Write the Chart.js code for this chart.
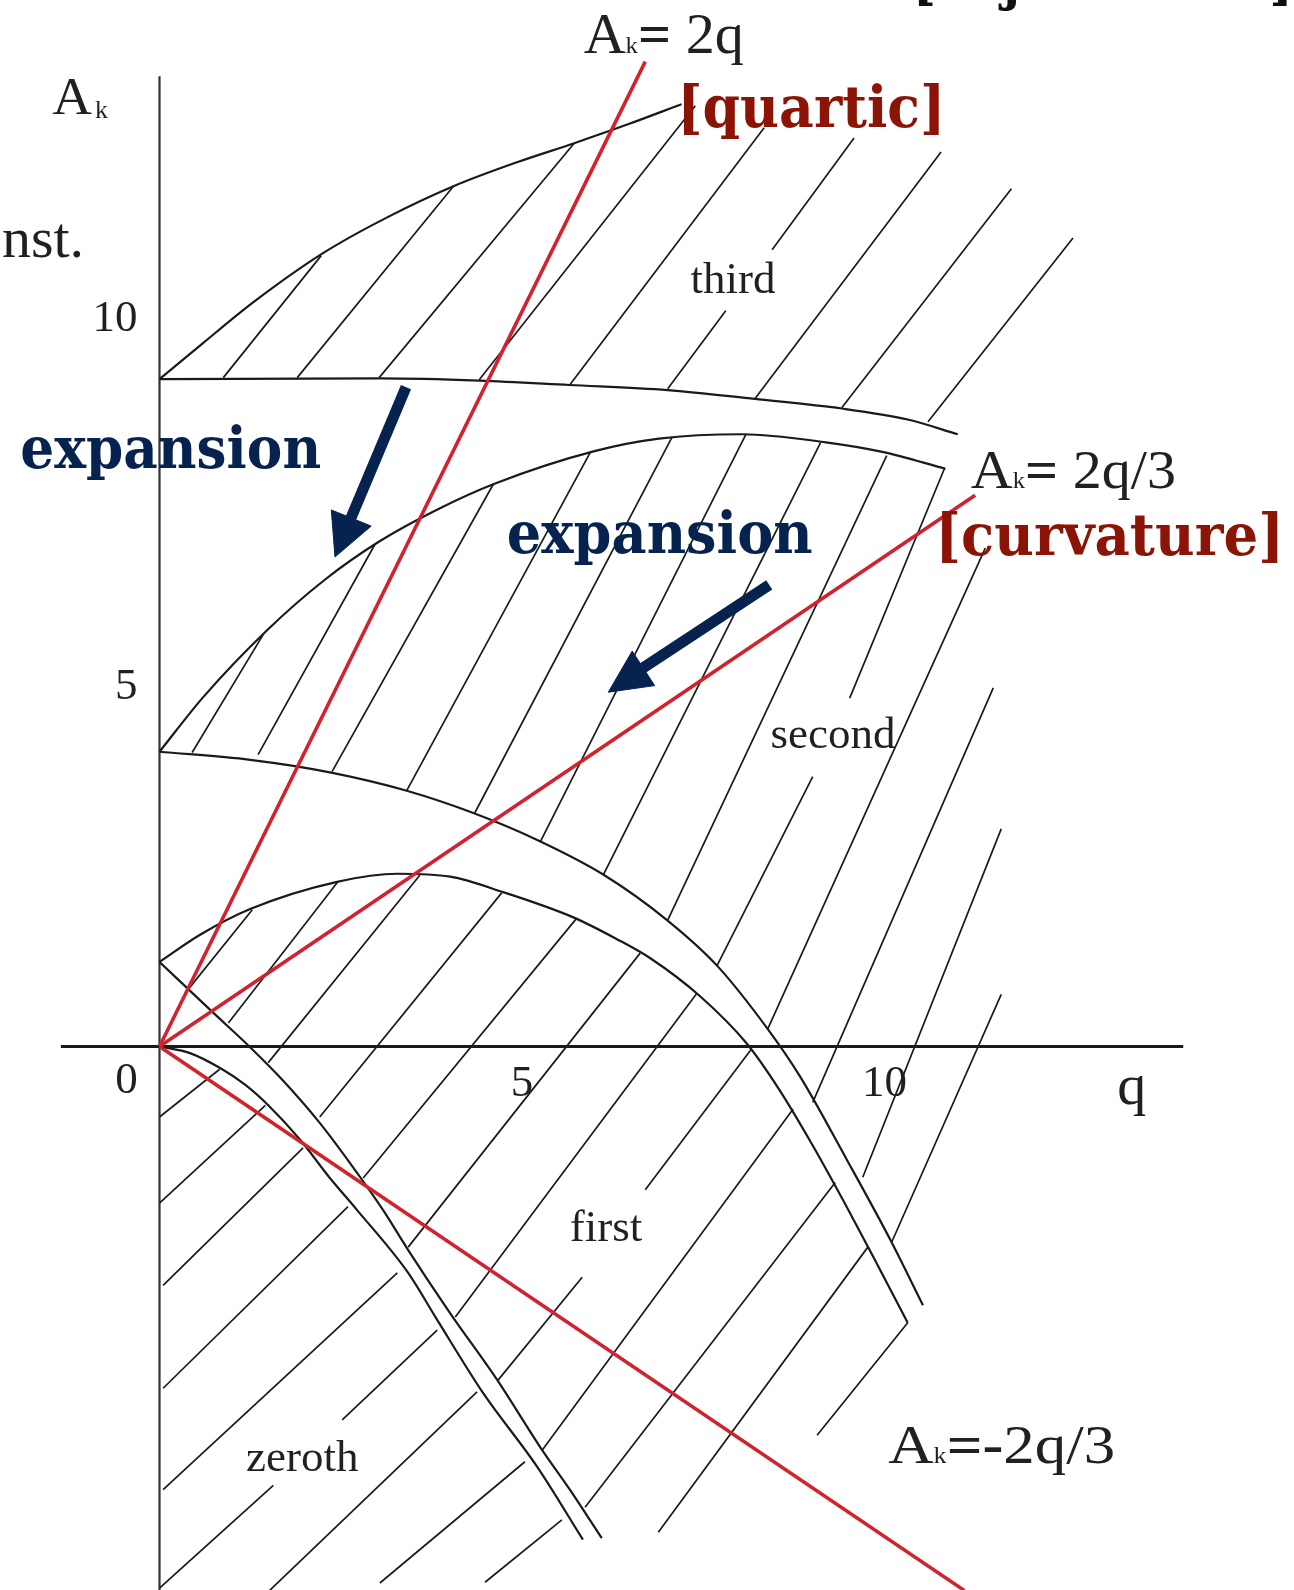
<!DOCTYPE html>
<html>
<head>
<meta charset="utf-8">
<title>Stability regions of A_k against q</title>
<script src="https://cdn.jsdelivr.net/npm/chart.js@4.4.1/dist/chart.umd.min.js"></script>
<style>
  html, body { margin: 0; padding: 0; background: #fff; }
  #wrap { width: 1294px; height: 1590px; position: relative; }
</style>
</head>
<body>
<div id="wrap"><canvas id="chart"></canvas></div>
<script>
// Axis tick labels
const qTicks = [5, 10];
const aTicks = [5, 10];

// Boundary curves, [q, A_k] pairs
const a3 = [[0, 9.08], [0.60, 9.57], [1.30, 10.13], [2.25, 10.79], [3.12, 11.27], [4.07, 11.71], [4.93, 12.03], [5.72, 12.29], [6.47, 12.55], [7.20, 12.82]];
const b3 = [[0, 9.08], [3.04, 9.09], [4.41, 9.06], [5.65, 9.0], [7.01, 8.93], [8.21, 8.81], [9.41, 8.68], [10.32, 8.53], [11.01, 8.33]];
const a2 = [[0, 4.01], [0.60, 4.75], [1.48, 5.66], [2.28, 6.35], [3.03, 6.87], [3.82, 7.30], [4.63, 7.66], [6.00, 8.10], [6.89, 8.27], [8.04, 8.33], [9.19, 8.22], [9.97, 8.09], [10.84, 7.86]];
const b2 = [[0, 4.01], [1.25, 3.9], [2.35, 3.73], [3.41, 3.48], [4.32, 3.18], [5.21, 2.81], [6.12, 2.34], [7.0, 1.72], [7.69, 1.10], [8.38, 0.25], [8.83, -0.4], [9.48, -1.54], [10.08, -2.63], [10.53, -3.52]];
const a1 = [[0, 1.15], [0.56, 1.52], [1.25, 1.87], [2.45, 2.24], [3.28, 2.35], [4.01, 2.31], [4.74, 2.10], [5.70, 1.76], [6.31, 1.46], [6.77, 1.20], [7.46, 0.68], [8.10, 0.04], [8.55, -0.59], [9.0, -1.33], [9.45, -2.13], [9.85, -2.87], [10.32, -3.76]];
const b1 = [[0, 1.15], [0.74, 0.46], [1.25, -0.01], [1.70, -0.46], [2.21, -1.04], [2.63, -1.59], [3.08, -2.22], [3.43, -2.77], [4.01, -3.63], [4.66, -4.54], [5.25, -5.45], [5.66, -6.03], [6.10, -6.69]];
const a0 = [[0, 0], [0.42, -0.09], [0.83, -0.29], [1.18, -0.52], [1.50, -0.80], [1.94, -1.27], [2.35, -1.79], [2.72, -2.22], [3.43, -3.08], [3.83, -3.72], [4.46, -4.71], [5.21, -5.72], [5.84, -6.71]];

// Straight reference lines through the origin
const quarticLine = [[0, 0], [6.7, 13.4]];
const curvatureLine = [[0, 0], [11.25, 7.5]];
const negCurvatureLine = [[0, 0], [11.1, -7.4]];

// Axes
const qAxis = [[-1.36, 0], [14.12, 0]];
const aAxis = [[0, 13.2], [0, -7.4]];

// Hatching strokes per stable region, each one a [start, end] pair
const thirdHatch = [
  [[0.88, 9.10], [2.23, 10.76]], [[1.90, 9.10], [4.06, 11.71]], [[3.03, 9.10], [5.72, 12.29]],
  [[4.41, 9.07], [7.39, 12.80]], [[5.65, 8.99], [8.34, 12.50]], [[7.01, 8.95], [7.81, 10.01]],
  [[8.45, 10.84], [9.58, 12.36]], [[8.21, 8.81], [10.78, 12.17]], [[9.41, 8.69], [11.75, 11.67]],
  [[10.60, 8.50], [12.60, 11.00]]
];
const secondHatch = [
  [[0.45, 4.0], [1.44, 5.62]], [[1.36, 3.97], [2.97, 6.83]], [[2.38, 3.74], [4.61, 7.66]],
  [[3.41, 3.48], [5.94, 8.08]], [[4.35, 3.18], [7.07, 8.29]], [[5.25, 2.78], [8.09, 8.33]],
  [[6.12, 2.33], [9.12, 8.22]], [[7.01, 1.72], [10.03, 8.04]], [[10.83, 7.87], [9.52, 4.74]],
  [[9.01, 3.67], [7.69, 1.10]], [[11.39, 6.78], [8.39, 0.24]], [[11.50, 4.88], [9.01, -0.76]],
  [[11.61, 2.96], [9.70, -1.78]], [[11.61, 0.71], [10.10, -2.66]]
];
const firstHatch = [
  [[0.39, 0.77], [1.28, 1.86]], [[0.95, 0.32], [2.46, 2.24]], [[1.50, -0.22], [3.59, 2.33]],
  [[2.21, -0.96], [4.72, 2.09]], [[2.81, -1.79], [5.75, 1.74]], [[3.43, -2.73], [6.63, 1.27]],
  [[4.08, -3.68], [7.41, 0.72]], [[4.67, -4.54], [5.83, -3.14]], [[6.70, -1.95], [8.16, -0.04]],
  [[5.28, -5.49], [8.74, -0.85]], [[5.87, -6.27], [9.32, -1.85]], [[6.88, -6.61], [9.77, -2.73]],
  [[9.07, -5.29], [10.32, -3.76]]
];
const zerothHatch = [
  [[0, -0.96], [0.83, -0.31]], [[0, -2.13], [1.46, -0.80]], [[0.05, -3.25], [1.98, -1.38]],
  [[0.05, -4.65], [2.60, -2.18]], [[0.05, -6.03], [3.28, -3.08]], [[0, -7.37], [1.57, -5.97]],
  [[2.52, -5.08], [3.83, -3.86]], [[1.52, -7.40], [4.38, -4.70]], [[3.04, -7.30], [5.04, -5.65]],
  [[4.49, -7.29], [5.55, -6.44]]
];

// "expansion" arrows: shaft and head outline
const arrow1Shaft = [[3.40, 8.97], [2.64, 7.19]];
const arrow1Head = [[2.37, 7.30], [2.92, 7.08], [2.42, 6.66], [2.37, 7.30]];
const arrow2Shaft = [[8.41, 6.28], [6.67, 5.15]];
const arrow2Head = [[6.52, 5.38], [6.83, 4.91], [6.19, 4.82], [6.52, 5.38]];

const INK = '#1a1a1a';
const TEXT = '#231f20';
const RED = '#d0232d';
const DARKRED = '#8b1406';
const NAVY = '#06234f';
const SERIF = '"Liberation Serif", "Times New Roman", serif';
const SLAB = '"DejaVu Serif", Georgia, serif';

const toPts = arr => arr.map(([q, a]) => ({ x: q, y: a }));
const toSegs = list => list.flatMap(s => [...toPts(s), { x: s[s.length - 1][0], y: null }]);

function line(data, color, width, extra) {
  return Object.assign({
    data, showLine: true, pointRadius: 0, pointHoverRadius: 0,
    borderColor: color, borderWidth: width, fill: false, tension: 0
  }, extra);
}

// A with a small k, then the rest of the expression, squeezed to a width
function drawAk(ctx, x, y, size, tail, width) {
  const parts = [
    { t: 'A', f: `${size}px ${SERIF}`, dy: 0 },
    { t: 'k', f: `${Math.round(size * 0.42)}px ${SERIF}`, dy: 0 }
  ];
  if (tail !== null) {
    parts.push({ t: '=', f: `bold ${size}px ${SERIF}`, dy: 0 });
    if (tail.startsWith('-')) {
      parts.push({ t: '-', f: `bold ${size}px ${SERIF}`, dy: 0 });
      tail = tail.slice(1);
    }
    parts.push({ t: tail, f: `${size}px ${SERIF}`, dy: 0 });
  } else {
    parts[1].f = `${Math.round(size * 0.48)}px ${SERIF}`;
    parts[1].dy = 4;
    parts[1].gap = 3;
  }
  let total = 0;
  parts.forEach(p => { ctx.font = p.f; p.w = ctx.measureText(p.t).width + (p.gap || 0); total += p.w; });
  ctx.save();
  ctx.translate(x, y);
  ctx.scale(width / total, 1);
  let cx = 0;
  parts.forEach(p => { ctx.font = p.f; ctx.fillText(p.t, cx + (p.gap || 0), p.dy); cx += p.w; });
  ctx.restore();
}

function drawFit(ctx, text, x, y, width, font) {
  ctx.font = font;
  const w = ctx.measureText(text).width;
  ctx.save();
  ctx.translate(x, y);
  ctx.scale(width / w, 1);
  ctx.fillText(text, 0, 0);
  ctx.restore();
}

// Text placed in chart units
const regionTags = [
  { t: 'third', q: 7.91, a: 10.25 },
  { t: 'second', q: 9.29, a: 4.06 },
  { t: 'first', q: 6.16, a: -2.65 },
  { t: 'zeroth', q: 1.97, a: -5.78 }
];

const notes = {
  id: 'notes',
  afterDatasetsDraw(chart) {
    const { ctx } = chart;
    const sx = chart.scales.x, sy = chart.scales.y;
    const X = v => sx.getPixelForValue(v);
    const Y = v => sy.getPixelForValue(v);
    const W = w => X(w) - X(0);
    ctx.save();
    ctx.textBaseline = 'alphabetic';
    ctx.fillStyle = TEXT;

    // tick labels
    ctx.font = `45px ${SERIF}`;
    ctx.textAlign = 'center';
    qTicks.forEach(v => ctx.fillText(String(v), X(v), Y(0) + 50));
    ctx.fillText('0', X(0) - 33, Y(0) + 47);
    ctx.textAlign = 'right';
    aTicks.forEach(v => ctx.fillText(String(v), X(0) - 22, Y(v) + 20));

    // axis titles
    ctx.textAlign = 'center';
    ctx.font = `58px ${SERIF}`;
    ctx.fillText('q', X(13.41), Y(-0.78));
    ctx.textAlign = 'right';
    ctx.fillText('const.', X(-1.04), Y(10.74));
    ctx.textAlign = 'left';
    drawAk(ctx, X(-1.48), Y(12.69), 53, null, W(0.77));

    // region names
    ctx.textAlign = 'center';
    ctx.font = `45px ${SERIF}`;
    regionTags.forEach(r => ctx.fillText(r.t, X(r.q), Y(r.a)));

    // line equations
    ctx.textAlign = 'left';
    drawAk(ctx, X(5.85), Y(13.52), 56, ' 2q', W(2.21));
    drawAk(ctx, X(11.19), Y(7.60), 54, ' 2q/3', W(2.83));
    drawAk(ctx, X(10.05), Y(-5.67), 55, '-2q/3', W(3.13));

    // bracketed notes and arrow captions
    ctx.fillStyle = DARKRED;
    drawFit(ctx, '[quartic]', X(7.14), Y(12.51), W(3.70), `bold 58px ${SLAB}`);
    drawFit(ctx, '[curvature]', X(10.70), Y(6.69), W(4.81), `bold 58px ${SLAB}`);
    ctx.fillStyle = NAVY;
    drawFit(ctx, 'expansion', X(-1.92), Y(7.87), W(4.15), `bold 58px ${SLAB}`);
    drawFit(ctx, 'expansion', X(4.79), Y(6.71), W(4.22), `bold 58px ${SLAB}`);
    ctx.fillStyle = '#111';
    drawFit(ctx, '[adjust value]', X(10.39), Y(14.26), W(5.24), `bold 58px ${SLAB}`);
    ctx.restore();
  }
};

const smooth = { cubicInterpolationMode: 'monotone', order: 2 };

const datasets = [
  line(toPts(arrow1Head), NAVY, 1, { fill: 'shape', backgroundColor: NAVY, order: 0 }),
  line(toPts(arrow1Shaft), NAVY, 11, { order: 0 }),
  line(toPts(arrow2Head), NAVY, 1, { fill: 'shape', backgroundColor: NAVY, order: 0 }),
  line(toPts(arrow2Shaft), NAVY, 11, { order: 0 }),
  line(toPts(quarticLine), RED, 3.6, { order: 1 }),
  line(toPts(curvatureLine), RED, 3.6, { order: 1 }),
  line(toPts(negCurvatureLine), RED, 3.6, { order: 1 }),
  ...[a3, b3, a2, b2, a1, b1, a0].map(c => line(toPts(c), INK, 2.2, smooth)),
  ...[thirdHatch, secondHatch, firstHatch, zerothHatch].map(h => line(toSegs(h), INK, 1.7, { order: 3, spanGaps: false })),
  line(toPts(qAxis), INK, 3, { order: 4 }),
  line(toPts(aAxis), '#333', 2.2, { order: 4 })
];

new Chart(document.getElementById('chart'), {
  type: 'scatter',
  data: { datasets },
  options: {
    responsive: true,
    maintainAspectRatio: false,
    animation: false,
    events: [],
    layout: { padding: 0 },
    plugins: { legend: { display: false }, tooltip: { enabled: false } },
    scales: {
      x: { type: 'linear', min: -2.2, max: 15.648, display: false },
      y: { type: 'linear', min: -7.395, max: 14.238, display: false }
    }
  },
  plugins: [notes]
});
</script>
</body>
</html>
